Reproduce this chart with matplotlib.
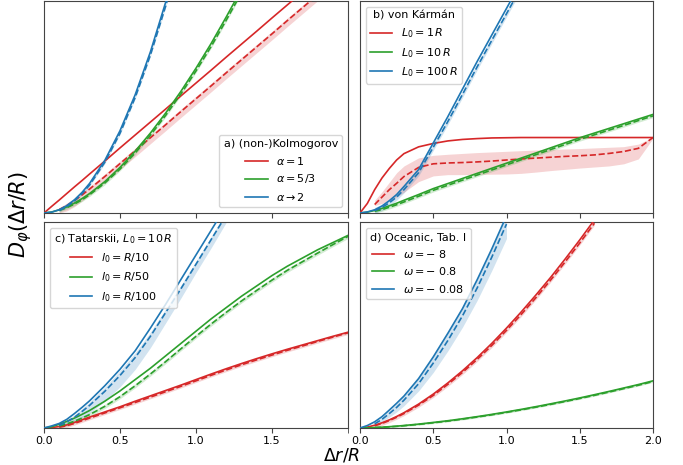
import matplotlib
matplotlib.use("Agg")
import matplotlib.pyplot as plt
import numpy as np

# common abscissa (Delta r / R); simulated curves start at 0.1
X = [0, 0.05, 0.1, 0.15, 0.2, 0.25, 0.3, 0.4, 0.5, 0.6, 0.7, 0.8, 0.9,
     1.0, 1.1, 1.2, 1.3, 1.4, 1.5, 1.6, 1.7, 1.8, 1.9, 2.0]
X_SIM = X[2:]

# a) (non-)Kolmogorov
A_RED = [0, 0.031, 0.061, 0.092, 0.123, 0.153, 0.184, 0.245, 0.307, 0.368, 0.429,
         0.49, 0.552, 0.613, 0.674, 0.736, 0.797, 0.858, 0.92, 0.981, 1.042]
A_RED_SIM = [0.016, 0.035, 0.058, 0.085, 0.113, 0.172, 0.233, 0.294, 0.355, 0.416,
             0.478, 0.539, 0.6, 0.662, 0.723, 0.784, 0.845, 0.907, 0.968, 1.029]
A_RED_LO = [0.0, 0.01, 0.03, 0.057, 0.085, 0.144, 0.205, 0.266, 0.327, 0.388,
            0.45, 0.511, 0.572, 0.634, 0.695, 0.756, 0.817, 0.879, 0.94, 1.001]
A_RED_HI = [0.025, 0.047, 0.07, 0.097, 0.125, 0.184, 0.245, 0.306, 0.367, 0.428,
            0.49, 0.551, 0.612, 0.674, 0.735, 0.796, 0.857, 0.919, 0.98, 1.041]
A_GREEN = [0, 0.0046, 0.0147, 0.029, 0.0467, 0.068, 0.0918, 0.148, 0.215, 0.292,
           0.377, 0.471, 0.573, 0.683, 0.80, 0.926, 1.057]
A_GREEN_SIM = [0.012, 0.025, 0.042, 0.062, 0.086, 0.141, 0.207, 0.283, 0.367, 0.46,
               0.561, 0.67, 0.786, 0.911, 1.04]
A_GREEN_SD = 0.008
A_BLUE = [0, 0.0039, 0.0155, 0.0349, 0.062, 0.097, 0.1396, 0.248, 0.388, 0.558,
          0.76, 0.993, 1.256]
A_BLUE_SIM = [0.012, 0.03, 0.057, 0.091, 0.132, 0.239, 0.376, 0.545, 0.745, 0.975, 1.235]
A_BLUE_SD = 0.006

# b) von Karman
B_RED = [0, 0.045, 0.11, 0.165, 0.21, 0.25, 0.28, 0.312, 0.328, 0.34, 0.347, 0.351,
         0.354, 0.355, 0.356, 0.356, 0.356, 0.356, 0.356, 0.356, 0.356, 0.356, 0.356, 0.356]
B_RED_SIM = [0.04, 0.075, 0.11, 0.14, 0.172, 0.215, 0.232, 0.236, 0.238, 0.241, 0.245,
             0.25, 0.255, 0.259, 0.263, 0.267, 0.27, 0.274, 0.281, 0.29, 0.305, 0.356]
B_RED_LO = [0.035, 0.045, 0.058, 0.075, 0.098, 0.148, 0.175, 0.181, 0.181, 0.182, 0.183,
            0.184, 0.187, 0.193, 0.2, 0.206, 0.212, 0.217, 0.222, 0.232, 0.255, 0.352]
B_RED_HI = [0.06, 0.10, 0.145, 0.19, 0.222, 0.26, 0.272, 0.277, 0.281, 0.285, 0.288,
            0.291, 0.294, 0.297, 0.3, 0.302, 0.304, 0.307, 0.31, 0.313, 0.325, 0.358]
B_GREEN = [0, 0.004, 0.012, 0.022, 0.034, 0.046, 0.06, 0.087, 0.115, 0.139, 0.163, 0.187,
           0.211, 0.235, 0.259, 0.283, 0.307, 0.331, 0.355, 0.377, 0.399, 0.421, 0.443, 0.465]
B_GREEN_SIM = [0.008, 0.016, 0.027, 0.039, 0.052, 0.079, 0.107, 0.131, 0.155, 0.179, 0.203,
               0.227, 0.251, 0.275, 0.299, 0.323, 0.347, 0.369, 0.391, 0.413, 0.436, 0.458]
B_GREEN_SD = 0.008
B_BLUE = [0, 0.005, 0.015, 0.033, 0.058, 0.087, 0.125, 0.205, 0.33, 0.455, 0.585, 0.715,
          0.84, 0.965, 1.09]
B_BLUE_SIM = [0.011, 0.026, 0.048, 0.075, 0.11, 0.19, 0.31, 0.432, 0.56, 0.69, 0.815,
              0.94, 1.065]
B_BLUE_SD = 0.015

# c) Tatarskii, L0 = 10 R
C_RED = [0, 0.002, 0.007, 0.015, 0.027, 0.04, 0.053, 0.078, 0.103, 0.13, 0.156, 0.182,
         0.208, 0.235, 0.262, 0.288, 0.313, 0.337, 0.36, 0.382, 0.403, 0.424, 0.445, 0.465]
C_RED_SIM = [0.004, 0.011, 0.022, 0.035, 0.048, 0.073, 0.098, 0.124, 0.15, 0.176, 0.202,
             0.229, 0.256, 0.282, 0.307, 0.331, 0.354, 0.377, 0.398, 0.42, 0.441, 0.462]
C_RED_SD = 0.008
C_GREEN = [0, 0.006, 0.018, 0.032, 0.048, 0.066, 0.085, 0.13, 0.18, 0.235, 0.29, 0.35,
           0.41, 0.47, 0.53, 0.585, 0.64, 0.69, 0.74, 0.785, 0.825, 0.865, 0.90, 0.935]
C_GREEN_SIM = [0.01, 0.02, 0.033, 0.048, 0.065, 0.105, 0.152, 0.205, 0.262, 0.322, 0.384,
               0.445, 0.505, 0.562, 0.617, 0.668, 0.718, 0.765, 0.807, 0.849, 0.89, 0.93]
C_GREEN_SD = 0.01
C_BLUE = [0, 0.01, 0.022, 0.042, 0.07, 0.1, 0.132, 0.205, 0.285, 0.375, 0.485, 0.6,
          0.72, 0.84, 0.96, 1.08]
C_BLUE_SIM = [0.012, 0.03, 0.052, 0.08, 0.11, 0.178, 0.255, 0.342, 0.445, 0.56, 0.675,
              0.795, 0.915, 1.035]
C_BLUE_LO = [0.004, 0.015, 0.03, 0.05, 0.072, 0.13, 0.2, 0.285, 0.39, 0.51, 0.63,
             0.755, 0.875, 1.0]
C_BLUE_HI = [0.016, 0.038, 0.064, 0.094, 0.126, 0.198, 0.278, 0.365, 0.465, 0.578, 0.692,
             0.81, 0.93, 1.05]

# d) Oceanic, Tab. I
D_RED = [0, 0.0045, 0.0134, 0.0251, 0.0394, 0.0558, 0.0742, 0.116, 0.1645, 0.219, 0.278,
         0.342, 0.411, 0.485, 0.563, 0.645, 0.73, 0.82, 0.913, 1.01]
D_RED_SIM = [0.011, 0.022, 0.036, 0.052, 0.07, 0.111, 0.158, 0.212, 0.27, 0.333, 0.401,
             0.474, 0.551, 0.632, 0.717, 0.806, 0.898, 0.994]
D_RED_SD = 0.01
D_GREEN = [0, 0.001, 0.0022, 0.004, 0.0064, 0.009, 0.0121, 0.0189, 0.027, 0.0353, 0.0449,
           0.0552, 0.0662, 0.078, 0.0904, 0.1035, 0.1172, 0.1313, 0.146, 0.1616, 0.1776,
           0.1942, 0.2109, 0.229]
D_GREEN_SIM = [0.0018, 0.0034, 0.0056, 0.008, 0.011, 0.0175, 0.0253, 0.0335, 0.043, 0.0532,
               0.064, 0.0757, 0.088, 0.101, 0.1145, 0.1285, 0.1432, 0.1585, 0.1745, 0.191,
               0.2075, 0.2255]
D_GREEN_SD = 0.004
D_BLUE = [0, 0.012, 0.03, 0.055, 0.087, 0.12, 0.155, 0.24, 0.345, 0.46, 0.58, 0.72,
          0.87, 1.03]
D_BLUE_SIM = [0.02, 0.042, 0.07, 0.1, 0.135, 0.215, 0.315, 0.425, 0.545, 0.68, 0.83, 0.99]
D_BLUE_LO = [0.012, 0.03, 0.053, 0.078, 0.108, 0.18, 0.27, 0.375, 0.49, 0.62, 0.765, 0.92]
D_BLUE_HI = [0.026, 0.052, 0.085, 0.118, 0.158, 0.245, 0.35, 0.465, 0.59, 0.725, 0.875, 1.04]

TITLES = ["a) (non-)Kolmogorov", "b) von Kármán",
          r"c) Tatarskii, $L_0=10\,R$", "d) Oceanic, Tab. I"]
LABELS = [
    [r"$\alpha=1$", r"$\alpha=5/3$", r"$\alpha\to2$"],
    [r"$L_0=1\,R$", r"$L_0=10\,R$", r"$L_0=100\,R$"],
    [r"$l_0=R/10$", r"$l_0=R/50$", r"$l_0=R/100$"],
    [r"$\omega=-\;8$", r"$\omega=-\;0.8$", r"$\omega=-\;0.08$"],
]
COLORS = ["tab:red", "tab:green", "tab:blue"]


def band(sim, sd):
    sim = np.asarray(sim)
    return np.clip(sim - sd, 0, None), sim + sd


def draw(ax, color, label, theory, sim, lo, hi):
    n = len(sim)
    ax.fill_between(X_SIM[:n], lo, hi, color=color, alpha=0.2, lw=0, zorder=1)
    ax.plot(X[:len(theory)], theory, color=color, lw=1.2, label=label, zorder=3)
    ax.plot(X_SIM[:n], sim, color=color, lw=1.2, ls="--", zorder=3)


fig = plt.figure(figsize=(6.83, 4.65), dpi=100)
W, H = 683, 465
boxes = [(44, 1, 348, 213), (360, 1, 653, 213), (44, 222, 348, 428), (360, 222, 653, 428)]
axes = [fig.add_axes([l / W, 1 - b / H, (r - l) / W, (b - t) / H]) for l, t, r, b in boxes]

panels = [
    [(A_RED, A_RED_SIM, A_RED_LO, A_RED_HI),
     (A_GREEN, A_GREEN_SIM, *band(A_GREEN_SIM, A_GREEN_SD)),
     (A_BLUE, A_BLUE_SIM, *band(A_BLUE_SIM, A_BLUE_SD))],
    [(B_RED, B_RED_SIM, B_RED_LO, B_RED_HI),
     (B_GREEN, B_GREEN_SIM, *band(B_GREEN_SIM, B_GREEN_SD)),
     (B_BLUE, B_BLUE_SIM, *band(B_BLUE_SIM, B_BLUE_SD))],
    [(C_RED, C_RED_SIM, *band(C_RED_SIM, C_RED_SD)),
     (C_GREEN, C_GREEN_SIM, *band(C_GREEN_SIM, C_GREEN_SD)),
     (C_BLUE, C_BLUE_SIM, C_BLUE_LO, C_BLUE_HI)],
    [(D_RED, D_RED_SIM, *band(D_RED_SIM, D_RED_SD)),
     (D_GREEN, D_GREEN_SIM, *band(D_GREEN_SIM, D_GREEN_SD)),
     (D_BLUE, D_BLUE_SIM, D_BLUE_LO, D_BLUE_HI)],
]
locs = ["lower right", "upper left", "upper left", "upper left"]

for i, ax in enumerate(axes):
    for color, label, series in zip(COLORS, LABELS[i], panels[i]):
        draw(ax, color, label, *series)
    ax.set_xlim(0, 2)
    ax.set_ylim(0, 1)
    ax.set_yticks([])
    ax.set_xticks([0, 0.5, 1.0, 1.5, 2.0])
    ax.tick_params(axis="x", labelsize=8, length=3.5, pad=2, color="#444444")
    for sp in ax.spines.values():
        sp.set_color("#444444")
    if i < 2:
        ax.tick_params(labelbottom=False)
    leg = ax.legend(loc=locs[i], title=TITLES[i], fontsize=8, title_fontsize=8)

axes[2].set_xticks([0, 0.5, 1.0, 1.5], ["0.0", "0.5", "1.0", "1.5"])
axes[2].set_xticks([2.0], minor=True)
axes[2].tick_params(axis="x", which="minor", length=3.5, color="#444444")

fig.text(342 / W, 0.001, r"$\Delta r/R$", ha="center", va="bottom", fontsize=12.5)
fig.text(21 / W, 1 - 215 / H, r"$D_\varphi(\Delta r/R)$", ha="center", va="center",
         rotation=90, fontsize=15)

fig.savefig("out.png", dpi=100)
